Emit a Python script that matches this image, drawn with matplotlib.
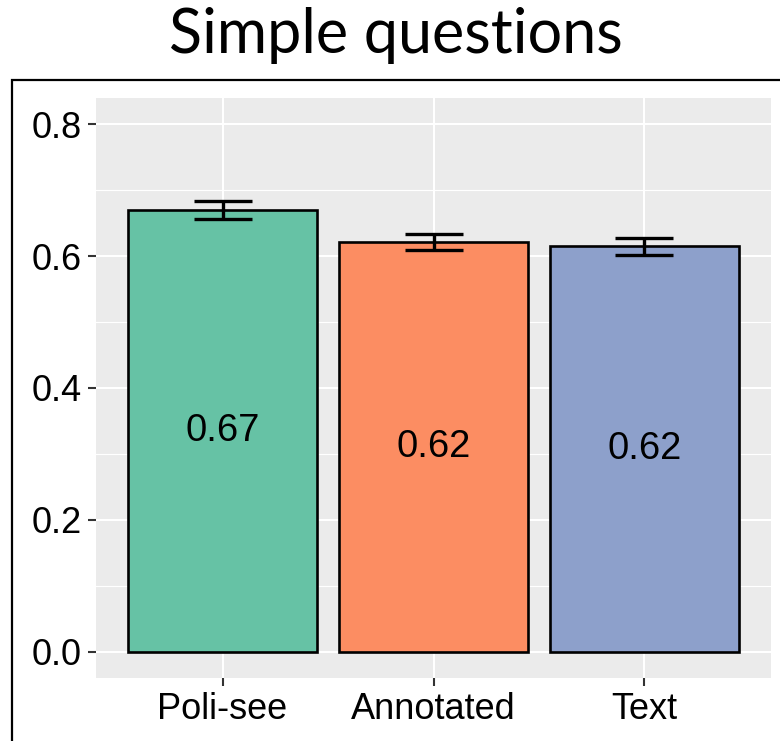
import matplotlib.pyplot as plt
from matplotlib.patches import Rectangle

# data
groups = ['Poli-see', 'Annotated', 'Text']
means = [0.670, 0.621, 0.615]
errs = [0.014, 0.0123, 0.013]
labels = ['0.67', '0.62', '0.62']
colors = ['#66C2A5', '#FC8D62', '#8DA0CB']
yticks = [0.0, 0.2, 0.4, 0.6, 0.8]
yminor = [0.1, 0.3, 0.5, 0.7]

W, H = 780, 741
fig = plt.figure(figsize=(W / 100, H / 100), dpi=100)
ax = fig.add_axes([96 / W, 1 - 678 / H, (771 - 96) / W, (678 - 98) / H])

# ggplot-ish panel
ax.set_facecolor('#EBEBEB')
for s in ax.spines.values():
    s.set_visible(False)
for y in yticks:
    ax.axhline(y, color='white', lw=1.5, zorder=0)
for y in yminor:
    ax.axhline(y, color='white', lw=0.8, zorder=0)
x = list(range(1, len(groups) + 1))
for xi in x:
    ax.axvline(xi, color='white', lw=1.5, zorder=0)

ax.bar(x, means, width=0.9, color=colors, edgecolor='black', linewidth=1.9, zorder=2)
ax.errorbar(x, means, yerr=errs, fmt='none', ecolor='black', elinewidth=2.4,
            capsize=21, capthick=2.4, zorder=3)
for xi, m, t in zip(x, means, labels):
    ax.text(xi, m / 2, t, ha='center', va='center', fontsize=27.5,
            family='Liberation Sans', zorder=4)

ax.set_xlim(0.4, 3.6)
ax.set_ylim(-0.04, 0.84)
ax.set_xticks(x)
ax.set_xticklabels(groups)
ax.set_yticks(yticks)
ax.set_yticklabels(['0.0', '0.2', '0.4', '0.6', '0.8'])
ax.tick_params(axis='both', length=6, width=1.5, color='#333333', labelsize=26,
               pad=4)
for lab in ax.get_xticklabels() + ax.get_yticklabels():
    lab.set_family('Liberation Sans')
    lab.set_color('black')

# outer frame, cut off on the right and bottom like the reference
fig.patches.append(Rectangle((12 / W, -0.05), 1.1, 1 - 80 / H + 0.05,
                             transform=fig.transFigure, fill=False,
                             edgecolor='black', lw=1.6, clip_on=False))

fig.text(396 / W, 1 - 36 / H, 'Simple questions', ha='center', va='center',
         fontsize=44, family='Lato')

fig.savefig('out.png', dpi=100)
